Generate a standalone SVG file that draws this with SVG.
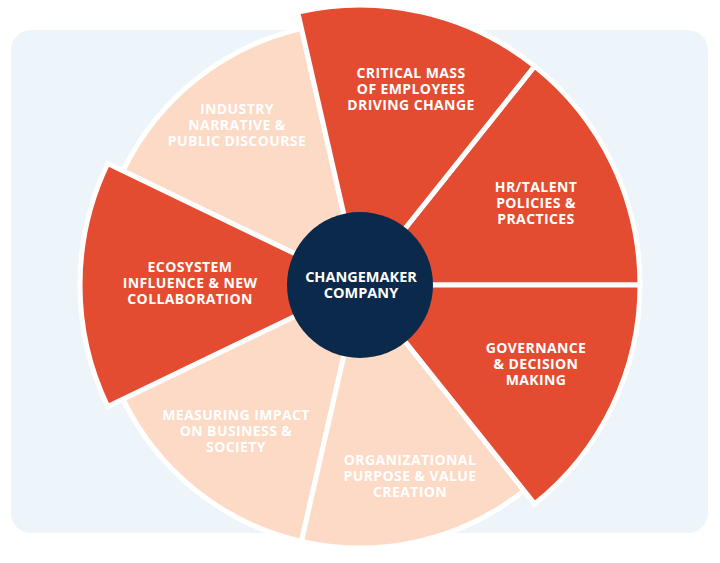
<svg xmlns="http://www.w3.org/2000/svg" width="720" height="563" viewBox="0 0 720 563">
<style>
.red{fill:#E44C31;stroke:#FFFFFF;stroke-width:5;stroke-linejoin:miter}
.peach{fill:#FDDAC5;stroke:#FFFFFF;stroke-width:5;stroke-linejoin:miter}
.lbl{font-family:"Open Sans","Noto Sans","Liberation Sans",sans-serif;font-weight:700;font-size:14px;letter-spacing:0.4px;fill:#FFFFFF;text-anchor:middle}
.ctr{font-family:"Open Sans","Noto Sans","Liberation Sans",sans-serif;font-weight:700;font-size:14.5px;fill:#FFFFFF;text-anchor:middle}
</style>
<rect x="11" y="30" width="697" height="503" rx="20" fill="#EEF5FA"/>
<g id="industry"><path class="peach" d="M360,285 L301.48,28.59 A263,263 0 0 0 123.04,170.89 Z"/>
<text class="lbl"><tspan x="237" y="114">INDUSTRY</tspan><tspan x="237" y="130">NARRATIVE &amp;</tspan><tspan x="237" y="146">PUBLIC DISCOURSE</tspan></text></g>
<g id="measuring"><path class="peach" d="M360,285 L123.04,399.11 A263,263 0 0 0 301.48,541.41 Z"/>
<text class="lbl"><tspan x="236" y="420">MEASURING IMPACT</tspan><tspan x="236" y="436">ON BUSINESS &amp;</tspan><tspan x="236" y="452">SOCIETY</tspan></text></g>
<g id="organizational"><path class="peach" d="M360,285 L301.48,541.41 A263,263 0 0 0 523.98,490.62 Z"/>
<text class="lbl"><tspan x="410" y="465">ORGANIZATIONAL</tspan><tspan x="410" y="481">PURPOSE &amp; VALUE</tspan><tspan x="410" y="497">CREATION</tspan></text></g>
<g id="hr"><path class="red" d="M360,285 L640,285 A280,280 0 0 0 534.58,66.09 Z"/>
<text class="lbl"><tspan x="536" y="192">HR/TALENT</tspan><tspan x="536" y="208">POLICIES &amp;</tspan><tspan x="536" y="224">PRACTICES</tspan></text></g>
<g id="critical"><path class="red" d="M360,285 L534.58,66.09 A280,280 0 0 0 297.69,12.02 Z"/>
<text class="lbl"><tspan x="411" y="78">CRITICAL MASS</tspan><tspan x="411" y="94">OF EMPLOYEES</tspan><tspan x="411" y="110">DRIVING CHANGE</tspan></text></g>
<g id="ecosystem"><path class="red" d="M360,285 L107.73,163.51 A280,280 0 0 0 107.73,406.49 Z"/>
<text class="lbl"><tspan x="190" y="272">ECOSYSTEM</tspan><tspan x="190" y="288">INFLUENCE &amp; NEW</tspan><tspan x="190" y="304">COLLABORATION</tspan></text></g>
<g id="governance"><path class="red" d="M360,285 L534.58,503.91 A280,280 0 0 0 640,285 Z"/>
<text class="lbl"><tspan x="536" y="353">GOVERNANCE</tspan><tspan x="536" y="369">&amp; DECISION</tspan><tspan x="536" y="385">MAKING</tspan></text></g>
<g id="center"><circle cx="360" cy="285" r="73" fill="#0B2A4B"/>
<text class="ctr"><tspan x="361" y="282">CHANGEMAKER</tspan><tspan x="361" y="298">COMPANY</tspan></text></g>
</svg>
